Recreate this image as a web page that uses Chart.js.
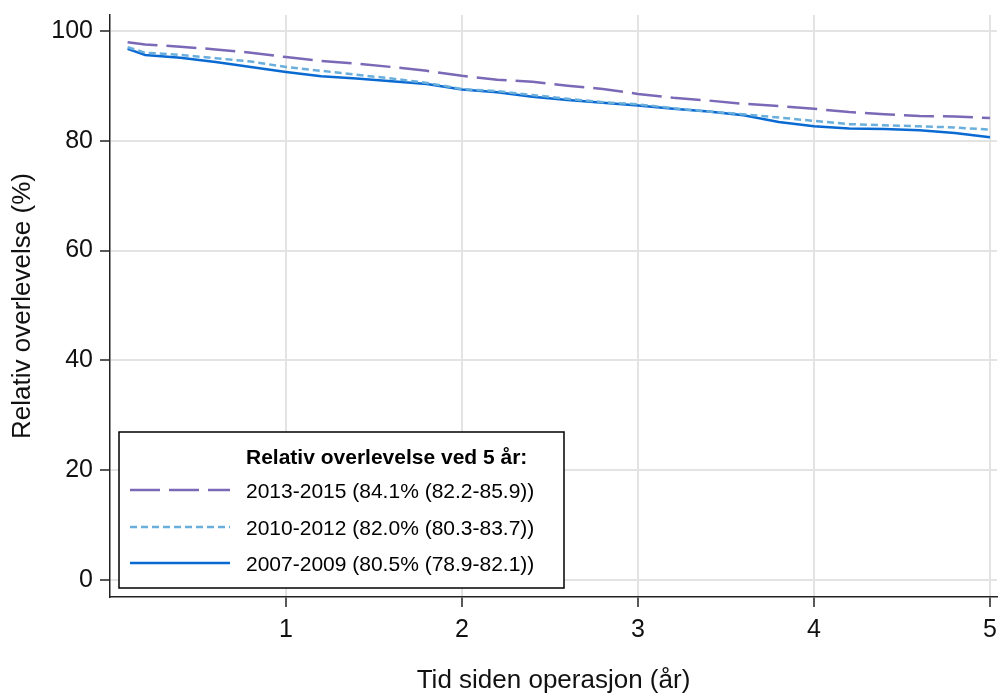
<!DOCTYPE html>
<html>
<head>
<meta charset="utf-8">
<script src="https://cdn.jsdelivr.net/npm/chart.js@4.4.0/dist/chart.umd.min.js"></script>
<style>
  html, body { margin: 0; padding: 0; background: #fff; }
  #wrap { width: 999px; height: 695px; }
</style>
</head>
<body>
<div id="wrap"><canvas id="c1" width="999" height="695"></canvas></div>
<script>
// years since surgery
const years = [0.1, 0.2, 0.4, 0.6, 0.8, 1.0, 1.2, 1.4, 1.6, 1.8, 2.0, 2.2, 2.4, 2.6, 2.8,
               3.0, 3.2, 3.4, 3.6, 3.8, 4.0, 4.2, 4.4, 4.6, 4.8, 5.0];

const surv1315 = [97.9, 97.5, 97.1, 96.6, 96.0, 95.2, 94.5, 94.0, 93.4, 92.7, 91.8, 91.1, 90.7,
                  90.0, 89.4, 88.5, 87.8, 87.3, 86.7, 86.3, 85.8, 85.2, 84.8, 84.5, 84.4, 84.1];
const surv1012 = [97.0, 96.0, 95.6, 95.0, 94.4, 93.4, 92.7, 92.0, 91.3, 90.5, 89.4, 89.0, 88.3,
                  87.6, 87.0, 86.6, 85.9, 85.3, 84.8, 84.2, 83.6, 83.0, 82.8, 82.6, 82.4, 82.0];
const surv0709 = [96.7, 95.6, 95.1, 94.3, 93.4, 92.5, 91.7, 91.3, 90.8, 90.3, 89.3, 88.8, 88.0,
                  87.4, 86.9, 86.4, 85.8, 85.3, 84.6, 83.4, 82.6, 82.2, 82.1, 81.9, 81.4, 80.6];

const seriesLabels = ['2013-2015 (84.1% (82.2-85.9))', '2010-2012 (82.0% (80.3-83.7))', '2007-2009 (80.5% (78.9-82.1))'];
const legendTitle = 'Relativ overlevelse ved 5 år:';
const xTicks = [1, 2, 3, 4, 5];
const yTicks = [0, 20, 40, 60, 80, 100];

const pts = (arr) => arr.map((v, i) => ({x: years[i], y: v}));

// legend box drawn inside the plot, bottom left
const boxLegend = {
  id: 'boxLegend',
  afterDatasetsDraw(chart) {
    const {ctx, chartArea} = chart;
    const x0 = chartArea.left + 9, y0 = chartArea.top + 417;
    const w = 445, h = 156;
    ctx.save();
    ctx.fillStyle = '#fff';
    ctx.fillRect(x0, y0, w, h);
    ctx.strokeStyle = '#000';
    ctx.lineWidth = 1.5;
    ctx.strokeRect(x0, y0, w, h);
    ctx.fillStyle = '#000';
    ctx.textBaseline = 'middle';
    ctx.font = 'bold 21px "Liberation Sans", Arial, sans-serif';
    ctx.fillText(legendTitle, x0 + 127, y0 + 26);
    ctx.font = '21px "Liberation Sans", Arial, sans-serif';
    const rows = [y0 + 58, y0 + 95, y0 + 131];
    chart.data.datasets.forEach((ds, i) => {
      ctx.strokeStyle = ds.borderColor;
      ctx.lineWidth = ds.borderWidth;
      ctx.setLineDash(ds.borderDash || []);
      ctx.beginPath();
      ctx.moveTo(x0 + 11, rows[i]);
      ctx.lineTo(x0 + 111, rows[i]);
      ctx.stroke();
      ctx.setLineDash([]);
      ctx.fillText(ds.label, x0 + 127, rows[i] + 2);
    });
    ctx.restore();
  }
};

const ctx = document.getElementById('c1').getContext('2d');
const myChart = new Chart(ctx, {
  type: 'line',
  data: {
    datasets: [
      { label: seriesLabels[0], data: pts(surv1315), borderColor: '#7b68b6', borderWidth: 2.5,
        borderDash: [30, 9], pointRadius: 0, order: 2 },
      { label: seriesLabels[1], data: pts(surv1012), borderColor: '#6aafdc', borderWidth: 2.5,
        borderDash: [7, 4], pointRadius: 0, order: 0 },
      { label: seriesLabels[2], data: pts(surv0709), borderColor: '#0a6ad2', borderWidth: 2.5,
        pointRadius: 0, order: 1 }
    ]
  },
  options: {
    responsive: false,
    animation: false,
    layout: { padding: { top: 15, right: 2, left: 0, bottom: 0 } },
    plugins: { legend: { display: false }, tooltip: { enabled: false } },
    scales: {
      x: {
        type: 'linear',
        min: 0, max: 5.04,
        afterBuildTicks: (s) => { s.ticks = xTicks.map(v => ({value: v})); },
        afterFit: (s) => { s.height = 98; s.paddingLeft = 0; s.paddingRight = 0; },
        grid: { color: '#e3e3e3', lineWidth: 2, tickLength: 10, tickColor: '#222', tickWidth: 1.5 },
        border: { color: '#222', width: 1.5 },
        ticks: { color: '#111', font: { family: '"Liberation Sans", Arial, sans-serif', size: 25 }, padding: 8, maxRotation: 0 },
        title: { display: true, text: 'Tid siden operasjon (år)', color: '#111',
                 font: { family: '"Liberation Sans", Arial, sans-serif', size: 26, lineHeight: 1.1 }, padding: { top: 0, bottom: 0 } }
      },
      y: {
        min: -3.04, max: 102.86,
        afterBuildTicks: (s) => { s.ticks = yTicks.map(v => ({value: v})); },
        afterFit: (s) => { s.width = 110; s.paddingTop = 0; s.paddingBottom = 0; },
        grid: { color: '#e3e3e3', lineWidth: 2, tickLength: 10, tickColor: '#222', tickWidth: 1.5 },
        border: { color: '#222', width: 1.5 },
        ticks: { color: '#111', font: { family: '"Liberation Sans", Arial, sans-serif', size: 25 }, padding: 7 },
        title: { display: true, text: 'Relativ overlevelse (%)', color: '#111',
                 font: { family: '"Liberation Sans", Arial, sans-serif', size: 26 }, padding: { top: 7, bottom: 0 } }
      }
    }
  },
  plugins: [boxLegend]
});
</script>
</body>
</html>
